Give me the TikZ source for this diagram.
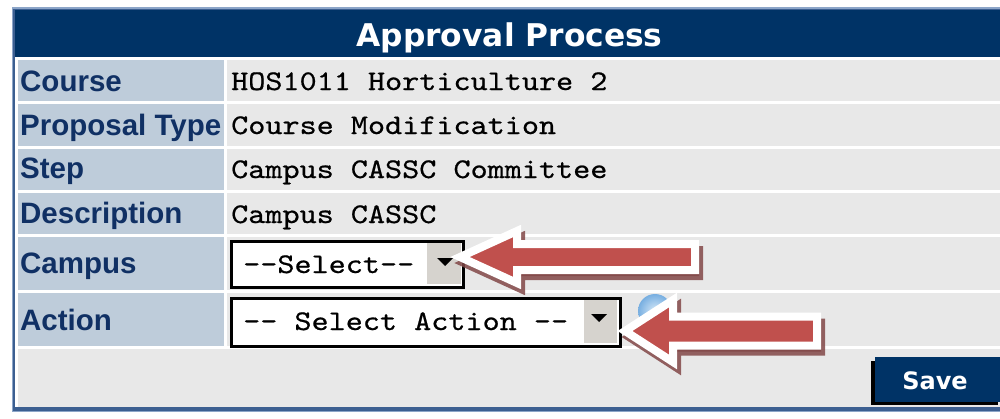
\documentclass[tikz,border=0pt]{standalone}
\usepackage{fontspec}
\setmainfont{Liberation Sans}
\newfontfamily\hdfont{DejaVu Sans}
\newfontfamily\monofont[FakeStretch=1.143,FakeBold=0.6]{lmmono10-regular.otf}
\definecolor{navy}{RGB}{0,51,102}
\definecolor{labelbg}{RGB}{190,204,218}
\definecolor{valuebg}{RGB}{232,232,232}
\definecolor{labeltxt}{RGB}{16,48,100}
\definecolor{frameblue}{RGB}{60,95,145}
\definecolor{framelight}{RGB}{140,165,200}
\definecolor{arrowred}{RGB}{192,80,77}
\definecolor{arrowshadow}{RGB}{130,72,72}
\definecolor{btngray}{RGB}{214,211,206}
\definecolor{helpblue}{RGB}{120,175,225}
\definecolor{helplight}{RGB}{215,233,248}
\begin{document}
\begin{tikzpicture}[x=1pt,y=-1pt,
  lbl/.style={anchor=base west, inner sep=0pt, text=labeltxt, font=\fontsize{29.5}{31}\selectfont\bfseries},
  val/.style={anchor=base west, inner sep=0pt, text=black, font=\monofont\fontsize{28.5}{30}\selectfont},
  lcell/.style={fill=labelbg},
  vcell/.style={fill=valuebg},
  selectbox/.style={draw=black, line width=2.5pt, fill=white, anchor=north west, inner sep=0pt},
  dropbtn/.style={fill=btngray, anchor=north west, inner sep=0pt},
  blockarrow/.style={fill=arrowred, draw=white, line width=8pt, line join=miter, miter limit=20},
  arrowshade/.style={fill=arrowshadow, draw=arrowshadow, line width=8pt, line join=miter, miter limit=20, opacity=0.85}
]
\useasboundingbox (0,0) rectangle (1000,418);
\fill[white] (0,0) rectangle (1000,418);
% frame
\fill[framelight] (12,7) rectangle (1000,412);
\fill[frameblue] (13,9) rectangle (1000,411);
\fill[white] (15,57) rectangle (1000,407);
% header
\fill[navy] (15,10) rectangle (1000,57);
\node[font=\hdfont\bfseries\fontsize{31.3}{33}\selectfont, text=white, anchor=base, inner sep=0pt] (title) at (509.5,46) {Approval Process};
% rows
\foreach \ya/\yb in {60/101, 104/146, 149/190, 193/234, 237/290, 293/346} {
  \fill[lcell] (18,\ya) rectangle (224,\yb);
  \fill[vcell] (227,\ya) rectangle (1000,\yb);
}
\fill[vcell] (18,349) rectangle (1000,407);
% labels
\node[lbl] (lcourse) at (20,91) {Course};
\node[lbl] (lprop) at (20,135) {Proposal Type};
\node[lbl] (lstep) at (20,178) {Step};
\node[lbl] (ldesc) at (20,223) {Description};
\node[lbl] (lcampus) at (20,273) {Campus};
\node[lbl] (laction) at (20,330) {Action};
% values
\node[val] (vcourse) at (231,90) {HOS1011 Horticulture 2};
\node[val] (vprop) at (231,134) {Course Modification};
\node[val] (vstep) at (231,178) {Campus CASSC Committee};
\node[val] (vdesc) at (231,223) {Campus CASSC};
% campus select
\node[selectbox, minimum width=232pt, minimum height=46pt] (campussel) at (230,240) {};
\node[dropbtn, minimum width=34pt, minimum height=41pt] (campusbtn) at (427,242.5) {};
\fill[black] (437,258) -- (453,258) -- (445,266) -- cycle;
\node[val] (vcampus) at (243,273) {--Select--};
% action select
\node[selectbox, minimum width=389pt, minimum height=48pt] (actionsel) at (230,297) {};
\node[dropbtn, minimum width=33pt, minimum height=43pt] (actionbtn) at (584,299.5) {};
\fill[black] (591,314) -- (607,314) -- (599,322) -- cycle;
\node[val] (vaction) at (243,330) {-- Select Action --};
% help icon behind arrow
\shade[inner color=helplight, outer color=helpblue] (655,311) circle (17);
% arrow 1 (campus)
\coordinate (tip1) at (460,257);
\fill[arrowshade, shift={(4,6)}] (460,257) -- (517,231) -- (517,244) -- (695,244) -- (695,270) -- (517,270) -- (517,283) -- cycle;
\filldraw[blockarrow] (tip1) -- (517,231) -- (517,244) -- (695,244) -- (695,270) -- (517,270) -- (517,283) -- cycle;
% arrow 2 (action)
\coordinate (tip2) at (625,331);
\fill[arrowshade, shift={(4,6)}] (625,331) -- (673,300) -- (673,316.5) -- (817,316.5) -- (817,345.5) -- (673,345.5) -- (673,362) -- cycle;
\filldraw[blockarrow] (tip2) -- (673,300) -- (673,316.5) -- (817,316.5) -- (817,345.5) -- (673,345.5) -- (673,362) -- cycle;
% save button
\fill[black] (871,361) rectangle (998,405);
\fill[navy] (875,357) rectangle (1000,402);
\node[font=\hdfont\bfseries\fontsize{24}{26}\selectfont, text=white, anchor=base, inner sep=0pt] (save) at (935,389) {Save};
\end{tikzpicture}
\end{document}
